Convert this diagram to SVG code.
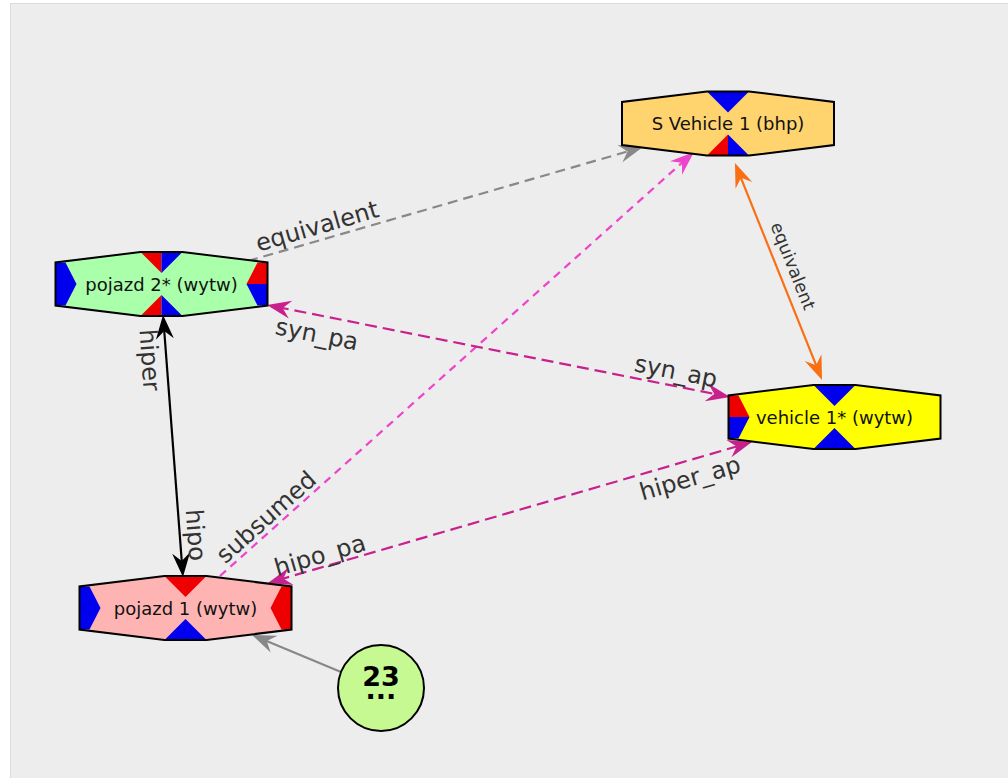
<svg xmlns="http://www.w3.org/2000/svg" width="1008" height="778" viewBox="0 0 1008 778">
  <style>
    .hex { fill: none; stroke: #000; stroke-width: 2; stroke-linejoin: miter; }
    .blue { fill: #0000ee; }
    .red { fill: #ee0000; }
    .ntext { font-family: "DejaVu Sans", sans-serif; font-size: 18px; fill: #111; text-anchor: middle; }
    .elabel { font-family: "DejaVu Sans", sans-serif; font-size: 24px; fill: #333; text-anchor: middle; }
    .edge { fill: none; stroke-width: 2.2; }
    .big { font-family: "DejaVu Sans", sans-serif; font-weight: bold; font-size: 27px; fill: #000; text-anchor: middle; }
  </style>
  <defs>
    <!-- swallowtail arrowheads; the path end sits inside the head, the tip lies 10px beyond -->
    <marker id="ah-gray" viewBox="-25 -10 26 20" refX="-10" refY="0" markerWidth="26" markerHeight="20" markerUnits="userSpaceOnUse" orient="auto-start-reverse">
      <path d="M0,0 L-24,-9 L-16,0 L-24,9 Z" fill="#888"/>
    </marker>
    <marker id="ah-pink" viewBox="-25 -10 26 20" refX="-10" refY="0" markerWidth="26" markerHeight="20" markerUnits="userSpaceOnUse" orient="auto-start-reverse">
      <path d="M0,0 L-24,-9 L-16,0 L-24,9 Z" fill="#ee44cc"/>
    </marker>
    <marker id="ah-orange" viewBox="-25 -10 26 20" refX="-10" refY="0" markerWidth="26" markerHeight="20" markerUnits="userSpaceOnUse" orient="auto-start-reverse">
      <path d="M0,0 L-24,-9 L-16,0 L-24,9 Z" fill="#fa6e14"/>
    </marker>
    <marker id="ah-purple" viewBox="-25 -10 26 20" refX="-10" refY="0" markerWidth="26" markerHeight="20" markerUnits="userSpaceOnUse" orient="auto-start-reverse">
      <path d="M0,0 L-24,-9 L-16,0 L-24,9 Z" fill="#c8208c"/>
    </marker>
    <marker id="ah-black" viewBox="-25 -10 26 20" refX="-10" refY="0" markerWidth="26" markerHeight="20" markerUnits="userSpaceOnUse" orient="auto-start-reverse">
      <path d="M0,0 L-24,-9 L-16,0 L-24,9 Z" fill="#000"/>
    </marker>
    <!-- shared node outline -->
    <polygon id="hexshape" points="-21,-32 21,-32 106,-21.5 106,21.5 21,32 -21,32 -106,21.5 -106,-21.5"/>
  </defs>

  <rect x="0" y="0" width="1008" height="778" fill="#ffffff"/>
  <rect x="10.5" y="3.5" width="998" height="775" fill="#ededed" stroke="#dcdcdc" stroke-width="1"/>

  <g id="connectors">
    <!-- equivalent (grey, dashed) -->
    <path class="edge" d="M248,261 L633.4,149.8" stroke="#888" stroke-dasharray="10 6" marker-end="url(#ah-gray)"/>
    <text class="elabel" transform="translate(317,226) rotate(-16.1)" dy="0.35em">equivalent</text>
    <!-- subsumed (pink, dashed) -->
    <path class="edge" d="M220,576 L686.5,158.7" stroke="#ee44cc" stroke-dasharray="8 6" marker-end="url(#ah-pink)"/>
    <text class="elabel" transform="translate(266,517) rotate(-41.8)" dy="0.35em">subsumed</text>
    <!-- equivalent (orange, both ways) -->
    <path class="edge" d="M738.7,172.3 L818.3,370.7" stroke="#fa6e14" marker-start="url(#ah-orange)" marker-end="url(#ah-orange)"/>
    <text class="elabel" style="font-size:17.5px" transform="translate(793,266) rotate(68.2)" dy="0.35em">equivalent</text>
    <!-- syn_pa / syn_ap -->
    <path class="edge" d="M276.8,306.9 L720.2,395.1" stroke="#c8208c" stroke-dasharray="12 6" marker-start="url(#ah-purple)" marker-end="url(#ah-purple)"/>
    <text class="elabel" transform="translate(317,334) rotate(11.2)" dy="0.35em">syn_pa</text>
    <text class="elabel" transform="translate(676,371) rotate(11.2)" dy="0.35em">syn_ap</text>
    <!-- hipo_pa / hiper_ap -->
    <path class="edge" d="M277.6,580.2 L742.4,444.8" stroke="#c8208c" stroke-dasharray="12 6" marker-start="url(#ah-purple)" marker-end="url(#ah-purple)"/>
    <text class="elabel" transform="translate(320,555) rotate(-16.2)" dy="0.35em">hipo_pa</text>
    <text class="elabel" transform="translate(690,478) rotate(-16.2)" dy="0.35em">hiper_ap</text>
    <!-- hiper / hipo (black) -->
    <path class="edge" d="M163.8,325 L182.2,567" stroke="#000" marker-start="url(#ah-black)" marker-end="url(#ah-black)"/>
    <text class="elabel" transform="translate(150,360) rotate(86)" dy="0.35em">hiper</text>
    <text class="elabel" transform="translate(196,535) rotate(86)" dy="0.35em">hipo</text>
    <!-- from the collapsed group -->
    <path class="edge" d="M341,672 L261.2,638.8" stroke="#888" marker-end="url(#ah-gray)"/>
  </g>

  <g id="node-s-vehicle-1" transform="translate(728,123.5)">
    <use href="#hexshape" fill="#ffd36e"/>
    <polygon class="blue" points="-21,-32 21,-32 0,-11"/>
    <polygon class="red" points="-21,32 0,32 0,11"/>
    <polygon class="blue" points="0,32 21,32 0,11"/>
    <use href="#hexshape" class="hex"/>
    <text class="ntext" x="0" y="6.5">S Vehicle 1 (bhp)</text>
  </g>

  <g id="node-pojazd-2" transform="translate(161.5,284)">
    <use href="#hexshape" fill="#aaffaa"/>
    <polygon class="red" points="-21,-32 0,-32 0,-11"/>
    <polygon class="blue" points="0,-32 21,-32 0,-11"/>
    <polygon class="red" points="-21,32 0,32 0,11"/>
    <polygon class="blue" points="0,32 21,32 0,11"/>
    <polygon class="blue" points="-106,-21.5 -96,-21.5 -85,0 -96,21.5 -106,21.5"/>
    <polygon class="red" points="106,-21.5 96,-21.5 85,0 106,0"/>
    <polygon class="blue" points="106,0 85,0 96,21.5 106,21.5"/>
    <use href="#hexshape" class="hex"/>
    <text class="ntext" x="0" y="6.5">pojazd 2* (wytw)</text>
  </g>

  <g id="node-vehicle-1" transform="translate(834.5,417)">
    <use href="#hexshape" fill="#ffff00"/>
    <polygon class="blue" points="-21,-32 21,-32 0,-11"/>
    <polygon class="blue" points="-21,32 21,32 0,11"/>
    <polygon class="red" points="-106,-21.5 -96,-21.5 -85,0 -106,0"/>
    <polygon class="blue" points="-106,0 -85,0 -96,21.5 -106,21.5"/>
    <use href="#hexshape" class="hex"/>
    <text class="ntext" x="0" y="6.5">vehicle 1* (wytw)</text>
  </g>

  <g id="node-pojazd-1" transform="translate(185.5,608)">
    <use href="#hexshape" fill="#ffb4b4"/>
    <polygon class="red" points="-21,-32 21,-32 0,-11"/>
    <polygon class="blue" points="-21,32 21,32 0,11"/>
    <polygon class="blue" points="-106,-21.5 -96,-21.5 -85,0 -96,21.5 -106,21.5"/>
    <polygon class="red" points="106,-21.5 96,-21.5 85,0 96,21.5 106,21.5"/>
    <use href="#hexshape" class="hex"/>
    <text class="ntext" x="0" y="6.5">pojazd 1 (wytw)</text>
  </g>

  <g id="node-group-23">
    <circle cx="381" cy="688" r="43" fill="#c6f991" stroke="#000" stroke-width="2"/>
    <text class="big" x="381" y="686">23</text>
    <text class="big" x="381" y="699">...</text>
  </g>
</svg>
